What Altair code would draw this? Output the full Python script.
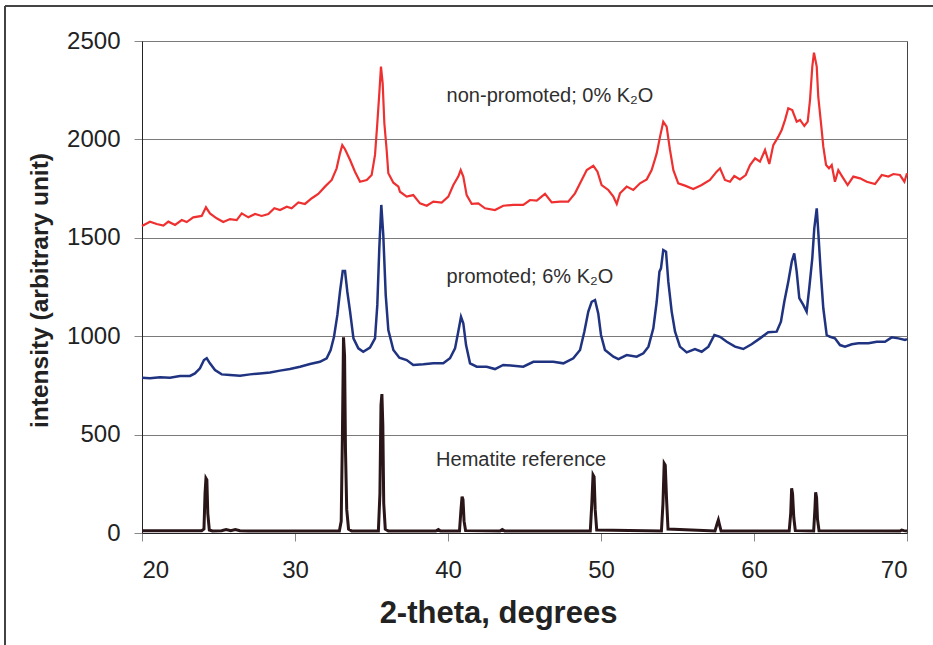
import altair as alt
import pandas as pd

# ---- data ----
red_x = [20.0, 20.52, 20.96, 21.4, 21.72, 22.16, 22.6, 22.92, 23.35, 23.9, 24.18, 24.44, 24.88, 25.31,
         25.75, 26.19, 26.52, 26.95, 27.39, 27.82, 28.26, 28.65, 29.02, 29.46, 29.78, 30.22, 30.65,
         31.1, 31.52, 31.96, 32.4, 32.72, 32.94, 33.09, 33.27, 33.6, 33.92, 34.25, 34.69, 35.01,
         35.23, 35.38, 35.51, 35.62, 35.73, 35.84, 35.99, 36.1, 36.43, 36.76, 36.86, 37.3, 37.73,
         38.17, 38.61, 39.04, 39.59, 40.02, 40.35, 40.67, 40.83, 41.0, 41.22, 41.55, 41.98, 42.42,
         43.07, 43.61, 44.27, 44.92, 45.36, 45.8, 46.34, 46.78, 47.32, 47.86, 48.3, 48.74, 49.07,
         49.5, 49.77, 50.04, 50.48, 50.81, 51.03, 51.24, 51.68, 52.11, 52.55, 52.99, 53.31, 53.53,
         53.64, 53.86, 54.07, 54.29, 54.51, 54.73, 55.05, 55.49, 56.03, 56.58, 57.12, 57.56, 57.78,
         58.1, 58.43, 58.71, 59.08, 59.46, 59.74, 60.07, 60.39, 60.72, 61.0, 61.26, 61.59, 61.81,
         62.03, 62.24, 62.5, 62.79, 63.01, 63.29, 63.51, 63.66, 63.81, 63.92, 64.1, 64.2, 64.38,
         64.53, 64.71, 64.9, 65.08, 65.29, 65.51, 65.84, 66.12, 66.49, 66.93, 67.37, 67.91, 68.35,
         68.78, 69.11, 69.54, 69.83, 70.0]
red_y = [1560, 1582, 1570, 1562, 1582, 1565, 1590, 1580, 1604, 1611, 1655, 1624, 1599, 1580,
         1595, 1590, 1624, 1604, 1621, 1611, 1621, 1650, 1641, 1658, 1650, 1680, 1672,
         1701, 1723, 1760, 1794, 1853, 1929, 1971, 1950, 1895, 1836, 1785, 1794, 1819,
         1921, 2082, 2234, 2370, 2285, 2082, 1946, 1828, 1780, 1760, 1734, 1709, 1717,
         1675, 1663, 1684, 1679, 1709, 1768, 1811, 1844, 1811, 1717, 1672, 1675, 1650,
         1641, 1663, 1667, 1667, 1692, 1689, 1723, 1680, 1684, 1684, 1726, 1794, 1844,
         1866, 1836, 1768, 1743, 1709, 1672, 1726, 1760, 1743, 1777, 1797, 1844, 1900,
         1929, 2014, 2090, 2065, 1946, 1844, 1777, 1765, 1748, 1768, 1794, 1836, 1853,
         1794, 1785, 1814, 1797, 1819, 1870, 1904, 1887, 1946, 1875, 1971, 2014, 2048,
         2099, 2158, 2149, 2090, 2099, 2068, 2090, 2200, 2370, 2441, 2370, 2217, 2082,
         1963, 1870, 1853, 1870, 1785, 1844, 1802, 1768, 1811, 1802, 1785, 1773, 1819,
         1811, 1824, 1819, 1785, 1828]

blue_x = [20.0, 20.52, 21.18, 21.83, 22.48, 23.14, 23.46, 23.79, 24.05, 24.23, 24.44, 24.77, 25.21,
          25.75, 26.41, 27.06, 27.71, 28.37, 29.02, 29.67, 30.33, 30.98, 31.63, 32.07, 32.33, 32.55,
          32.77, 32.94, 33.12, 33.27, 33.42, 33.6, 33.82, 34.14, 34.46, 34.9, 35.23, 35.38, 35.51,
          35.64, 35.77, 35.93, 36.1, 36.43, 36.82, 37.3, 37.73, 38.39, 39.04, 39.69, 40.13, 40.46,
          40.67, 40.85, 41.0, 41.18, 41.44, 41.88, 42.53, 43.07, 43.61, 44.27, 44.92, 45.58, 46.23,
          46.88, 47.54, 48.19, 48.63, 48.91, 49.17, 49.39, 49.61, 49.82, 50.0, 50.26, 50.81, 51.14,
          51.68, 52.33, 52.77, 53.1, 53.42, 53.64, 53.82, 53.92, 54.07, 54.25, 54.4, 54.62, 54.84,
          55.16, 55.6, 56.14, 56.58, 57.02, 57.41, 57.78, 58.22, 58.76, 59.3, 59.84, 60.39, 60.93,
          61.48, 61.76, 61.98, 62.24, 62.47, 62.63, 62.79, 62.96, 63.22, 63.44, 63.61, 63.81, 63.94,
          64.1, 64.2, 64.36, 64.53, 64.75, 64.97, 65.29, 65.62, 65.95, 66.39, 66.82, 67.48, 68.02,
          68.56, 69.0, 69.44, 69.87, 70.0]
blue_y = [789, 786, 791, 789, 798, 798, 811, 837, 879, 888, 862, 828, 806,
          803, 799, 806, 811, 816, 825, 833, 845, 859, 870, 888, 930, 997,
          1108, 1226, 1331, 1331, 1226, 1125, 989, 938, 921, 942, 989, 1159, 1447,
          1667, 1514, 1209, 1031, 930, 891, 879, 854, 857, 862, 862, 888, 938,
          1023, 1099, 1066, 955, 862, 845, 845, 833, 854, 850, 845, 870, 870,
          870, 862, 888, 930, 1023, 1125, 1175, 1184, 1116, 1006, 930, 896, 884,
          904, 896, 913, 947, 1040, 1175, 1328, 1345, 1438, 1429, 1277, 1125, 1023,
          947, 918, 935, 921, 947, 1006, 997, 972, 947, 935, 959, 989, 1020,
          1023, 1074, 1175, 1277, 1379, 1421, 1328, 1193, 1159, 1125, 1243, 1396, 1548,
          1650, 1531, 1328, 1142, 1006, 997, 989, 955, 947, 959, 964, 964, 972,
          972, 994, 989, 981, 985]

hem_x = [20.0, 23.9, 24.05, 24.12, 24.18, 24.24, 24.3, 24.4, 24.6, 25.2, 25.5, 25.8, 26.1, 26.4, 27.0,
         32.9, 33.02, 33.1, 33.17, 33.24, 33.3, 33.38, 33.5, 33.7, 35.45, 35.55, 35.62, 35.68, 35.74,
         35.8, 35.9, 36.1, 39.2, 39.37, 39.5, 40.75, 40.85, 40.92, 40.98, 41.05, 41.15, 43.4, 43.55,
         43.7, 49.3, 49.4, 49.48, 49.55, 49.62, 49.72, 53.95, 54.05, 54.13, 54.2, 54.28, 54.38, 57.45,
         57.6, 57.67, 57.75, 57.85, 62.3, 62.4, 62.46, 62.52, 62.6, 62.7, 63.9, 63.98, 64.03, 64.09,
         64.15, 64.25, 69.55, 69.65, 69.8, 70.0]
hem_y = [12, 12, 20, 200, 278, 270, 100, 15, 10, 12, 18, 12, 18, 12, 10,
         10, 60, 500, 994, 900, 420, 120, 20, 10, 10, 200, 650, 706, 550,
         150, 20, 10, 10, 18, 10, 10, 120, 185, 170, 60, 12, 10, 18,
         10, 10, 150, 295, 285, 120, 15, 10, 150, 354, 345, 180, 20, 10,
         50, 66, 40, 10, 10, 100, 227, 200, 80, 12, 10, 120, 207, 180,
         70, 12, 10, 15, 12, 10]

label_text = ["non-promoted; 0% K\u2082O", "promoted; 6% K\u2082O", "Hematite reference"]
label_x = [39.91, 39.91, 39.22]
label_y = [2192, 1269, 340]

x_ticks = [20, 30, 40, 50, 60, 70]
y_ticks = [0, 500, 1000, 1500, 2000, 2500]

FONT = "Liberation Sans"

red_df = pd.DataFrame({"x": red_x, "y": red_y})
blue_df = pd.DataFrame({"x": blue_x, "y": blue_y})
hem_df = pd.DataFrame({"x": hem_x, "y": hem_y})
lab_df = pd.DataFrame({"t": label_text, "x": label_x, "y": label_y})

xs = alt.Scale(domain=[20, 70], nice=False)
ys = alt.Scale(domain=[0, 2500], nice=False)

xenc = alt.X("x:Q", scale=xs, axis=alt.Axis(
    values=x_ticks, format="d", title="2-theta, degrees", grid=False, labelFontSize=24,
    labelPadding=17, titleFontSize=31, titleFontWeight="bold", titleX=356, titleY=89,
    titleAlign="center", titleBaseline="alphabetic"))
yenc = alt.Y("y:Q", scale=ys, axis=alt.Axis(
    values=y_ticks, format="d", title="intensity (arbitrary unit)", grid=True, labelFontSize=24,
    labelPadding=14, titleFontSize=24.5, titleFontWeight="bold", titleX=-95, titleY=249,
    titleAlign="center", titleBaseline="alphabetic", titleAngle=270))

red = alt.Chart(red_df).mark_line(color="#ef3030", strokeWidth=2.2).encode(x=xenc, y=yenc)
blue = alt.Chart(blue_df).mark_line(color="#1f3380", strokeWidth=2.5).encode(x="x:Q", y="y:Q")
hem = alt.Chart(hem_df).mark_line(color="#2a1519", strokeWidth=3).encode(x="x:Q", y="y:Q")
labels = alt.Chart(lab_df).mark_text(align="left", baseline="alphabetic", fontSize=20,
                                     font=FONT, color="#2e2e2e").encode(x="x:Q", y="y:Q", text="t:N")

frame_top = alt.Chart(red_df).mark_rule(color="#444", strokeWidth=1.2).encode(
    x=alt.value(-137), x2=alt.value(800), y=alt.value(-35))
frame_left = alt.Chart(red_df).mark_rule(color="#444", strokeWidth=1.2).encode(
    x=alt.value(-137), y=alt.value(-35), y2=alt.value(620))

chart = alt.layer(red, blue, hem, labels, frame_top, frame_left).properties(
    width=765, height=492,
    autosize=alt.AutoSizeParams(type="none"),
    padding={"left": 142, "top": 41, "right": 26, "bottom": 112},
    background="white",
).configure_view(
    stroke="#444", strokeWidth=1
).configure_axis(
    labelFont=FONT, titleFont=FONT, labelColor="#222", titleColor="#222",
    domainColor="#222", domainWidth=1, tickColor="#888", tickSize=8, tickWidth=1,
    gridColor="#7a7a7a", gridWidth=1
)

chart.save("out.html", embed_options={"renderer": "svg", "actions": False})
